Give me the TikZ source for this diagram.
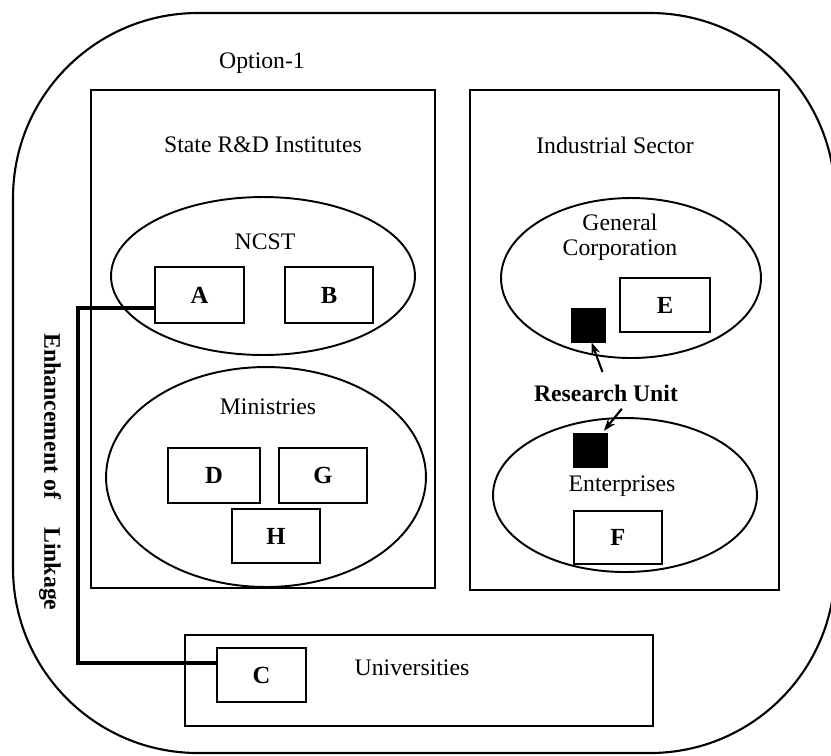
\documentclass[tikz,border=0pt]{standalone}
\usepackage{fontspec}
\setmainfont{Liberation Serif}
\usetikzlibrary{arrows.meta,shapes.geometric}
\begin{document}
\begin{tikzpicture}[x=0.02cm,y=-0.02cm,
  every node/.style={font=\fontsize{13.5}{15}\selectfont},
  frame/.style={draw,line width=1.3pt,inner sep=0pt,minimum width=#1},
  unit/.style={draw,line width=1.4pt,inner sep=0pt,font=\fontsize{14}{16}\selectfont\bfseries},
  group/.style={draw,ellipse,line width=1.1pt,inner sep=0pt},
  lab/.style={inner sep=1pt},
  blk/.style={fill=black,draw=black,inner sep=0pt,minimum width=0.68cm,minimum height=0.68cm},
  link/.style={line width=2.3pt,line cap=rect},
  arr/.style={line width=1.2pt,-{Stealth[length=7pt,width=5pt]}}]
\useasboundingbox (0,0) rectangle (831,755);
\clip (0,0) rectangle (831,755);
% outer frame
\draw[line width=1.2pt,rounded corners=3.7cm] (13,13) rectangle (835,753);
\node[lab] (opt) at (262,63) {Option-1};
% two sectors
\node[frame=6.88cm,minimum height=9.96cm] (state) at (263,339) {};
\node[frame=6.18cm,minimum height=10cm] (ind) at (624.5,340) {};
\node[lab] (stateLab) at (263,145) {State R\&D Institutes};
\node[lab] (indLab) at (615,145) {Industrial Sector};
% NCST
\node[group,minimum width=6.08cm,minimum height=3.16cm] (ncst) at (263,276) {};
\node[lab] (ncstLab) at (265,242) {NCST};
\node[unit,minimum width=1.78cm,minimum height=1.12cm] (A) at (199.5,295) {A};
\node[unit,minimum width=1.76cm,minimum height=1.12cm] (B) at (329,295) {B};
% Ministries
\node[group,minimum width=6.4cm,minimum height=4.4cm] (min) at (266,477) {};
\node[lab] (minLab) at (268,407) {Ministries};
\node[unit,minimum width=1.84cm,minimum height=1.1cm] (D) at (214,475.5) {D};
\node[unit,minimum width=1.76cm,minimum height=1.1cm] (G) at (323,475.5) {G};
\node[unit,minimum width=1.76cm,minimum height=1.08cm] (H) at (276,536) {H};
% General Corporation
\node[group,minimum width=5.2cm,minimum height=3.2cm] (gc) at (631,278) {};
\node[lab,align=center] (gcLab) at (620,237) {General\\[-1pt]Corporation};
\node[unit,minimum width=1.8cm,minimum height=1.08cm] (E) at (665,305) {E};
\node[blk] (ru1) at (588,325) {};
% Enterprises
\node[group,minimum width=5.28cm,minimum height=3.08cm] (ent) at (625,495) {};
\node[lab] (entLab) at (622,486) {Enterprises};
\node[blk] (ru2) at (590,450) {};
\node[unit,minimum width=1.76cm,minimum height=1.06cm] (F) at (618,537.5) {F};
\node[lab,font=\fontsize{13.5}{15}\selectfont\bfseries] (RU) at (606,393) {Research Unit};
\draw[arr] ([xshift=-2pt,yshift=6pt]RU.north) -- ([xshift=2pt]ru1.south);
\draw[arr] ([xshift=9pt,yshift=-3pt]RU.south) -- ([xshift=-2pt,yshift=1pt]ru2.north east);
% Universities
\node[frame=9.36cm,minimum height=1.82cm] (uni) at (419,680.5) {};
\node[unit,minimum width=1.78cm,minimum height=1.08cm] (C) at (261.5,675) {C};
\node[lab] (uniLab) at (412,668) {Universities};
% linkage between A and C
\coordinate (linkTop) at (78,308);
\coordinate (linkBot) at (78,663);
\draw[link] (A.west |- linkTop) -- (linkTop) -- (linkBot) -- (C.west |- linkBot);
\node[lab,rotate=-90,font=\fontsize{13.5}{15}\selectfont\bfseries] (enh) at (50,472) {Enhancement of\hspace{1.2em}Linkage};
\end{tikzpicture}
\end{document}
